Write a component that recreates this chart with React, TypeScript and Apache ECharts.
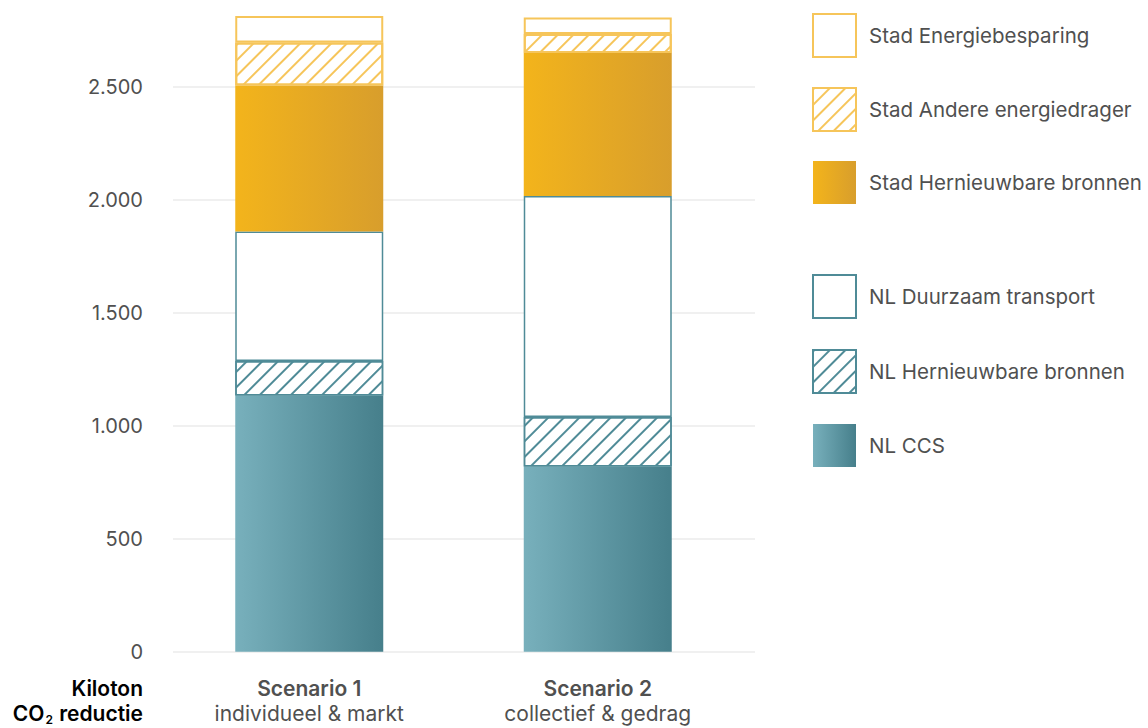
import React, { useEffect, useRef } from "react";
import * as echarts from "echarts";

const categories = ["Scenario 1", "Scenario 2"];
const subtitles = ["individueel & markt", "collectief & gedrag"];
const yTickInterval = 500;
const yMax = 2886;

const nlCcs = [1135, 820];
const nlHernieuwbaar = [152, 219];
const nlTransport = [574, 979];
const stadHernieuwbaar = [646, 633];
const stadAndere = [191, 84];
const stadBesparing = [117, 74];

const FONT = "Inter, 'Open Sans', sans-serif";
const TEXT = "#505050";
const TEAL_LINE = "#4f8b97";
const ORANGE_LINE = "#f6c55a";

const tealGrad = () =>
  new echarts.graphic.LinearGradient(0, 0, 1, 0, [
    { offset: 0, color: "#78b0bc" },
    { offset: 1, color: "#467f8b" },
  ]);
const orangeGrad = () =>
  new echarts.graphic.LinearGradient(0, 0, 1, 0, [
    { offset: 0, color: "#f3b41b" },
    { offset: 1, color: "#d89e2c" },
  ]);
const hatch = (color: string) => ({
  symbol: "rect",
  symbolSize: 1,
  dashArrayX: [1, 0],
  dashArrayY: [1.6, 9],
  rotation: -Math.PI / 4,
  color,
  backgroundColor: "#ffffff",
});

export default function App() {
  const ref = useRef<HTMLDivElement>(null);
  useEffect(() => {
    document.body.style.margin = "0";
    const chart = echarts.init(ref.current!, null, { renderer: "svg" });
    const top = 0;
    const bottom = 76.3;
    const base = { type: "bar", stack: "total", barWidth: 148, xAxisIndex: 0, yAxisIndex: 0 };
    const legendText = { fontSize: 20.5, color: TEXT, fontFamily: FONT, padding: [0, 0, 0, 8] };
    chart.setOption({
      animation: false,
      backgroundColor: "#ffffff",
      textStyle: { fontFamily: FONT },
      grid: [
        { left: 165, width: 577, top, bottom },
        { left: 173, right: 393, top, bottom },
      ],
      xAxis: [
        {
          type: "category",
          gridIndex: 0,
          data: categories,
          axisLine: { show: false },
          axisTick: { show: false },
          axisLabel: {
            margin: 24,
            formatter: (v: string, i: number) => `{t|${v}}\n{s|${subtitles[i]}}`,
            rich: {
              t: { fontSize: 21, fontWeight: 600, color: TEXT, lineHeight: 25, fontFamily: FONT },
              s: { fontSize: 21, color: TEXT, lineHeight: 25, fontFamily: FONT },
            },
          },
        },
        { type: "value", gridIndex: 1, show: false, min: 0, max: 1 },
      ],
      yAxis: [
        { type: "value", gridIndex: 0, min: 0, max: yMax, interval: yTickInterval, show: false, splitLine: { show: false } },
        {
          type: "value",
          gridIndex: 1,
          min: 0,
          max: yMax,
          interval: yTickInterval,
          axisLine: { show: false },
          axisTick: { show: false },
          splitLine: { show: true, showMaxLine: false, lineStyle: { color: "#ebebeb", width: 1.5 } },
          axisLabel: {
            margin: 30,
            fontSize: 20,
            color: TEXT,
            fontFamily: FONT,
            showMaxLabel: false,
            formatter: (v: number) => (v % yTickInterval === 0 ? v.toLocaleString("de-DE") : ""),
          },
        },
      ],
      legend: [
        {
          orient: "vertical",
          left: 812,
          top: 13,
          padding: 0,
          itemWidth: 43,
          itemHeight: 43,
          itemGap: 29,
          icon: "rect",
          data: ["Stad Energiebesparing", "Stad Andere energiedrager", "Stad Hernieuwbare bronnen"],
          textStyle: legendText,
          selectedMode: false,
        },
        {
          orient: "vertical",
          left: 812,
          top: 274,
          padding: 0,
          itemWidth: 43,
          itemHeight: 43,
          itemGap: 30,
          icon: "rect",
          data: ["NL Duurzaam transport", "NL Hernieuwbare bronnen", "NL CCS"],
          textStyle: legendText,
          selectedMode: false,
        },
      ],
      graphic: [
        {
          type: "text",
          x: 143,
          y: 675.7,
          style: {
            text: "{b|Kiloton}\n{b|CO}{sub|2}{b| reductie}",
            align: "right",
            verticalAlign: "top",
            rich: {
              b: { fontSize: 21, fontWeight: 600, color: TEXT, lineHeight: 25, fontFamily: FONT },
              sub: { fontSize: 12, fontWeight: 600, color: TEXT, lineHeight: 25, verticalAlign: "bottom", fontFamily: FONT, padding: [10, 1, 0, 1] },
            },
          },
        },
      ],
      series: [
        { ...base, name: "NL CCS", data: nlCcs, itemStyle: { color: tealGrad() } },
        {
          ...base,
          name: "NL Hernieuwbare bronnen",
          data: nlHernieuwbaar,
          itemStyle: { color: "#ffffff", borderColor: TEAL_LINE, borderWidth: 1.5, decal: hatch(TEAL_LINE) },
        },
        {
          ...base,
          name: "NL Duurzaam transport",
          data: nlTransport,
          itemStyle: { color: "#ffffff", borderColor: TEAL_LINE, borderWidth: 1.5 },
        },
        { ...base, name: "Stad Hernieuwbare bronnen", data: stadHernieuwbaar, itemStyle: { color: orangeGrad() } },
        {
          ...base,
          name: "Stad Andere energiedrager",
          data: stadAndere,
          itemStyle: { color: "#ffffff", borderColor: ORANGE_LINE, borderWidth: 2, decal: hatch(ORANGE_LINE) },
        },
        {
          ...base,
          name: "Stad Energiebesparing",
          data: stadBesparing,
          itemStyle: { color: "#ffffff", borderColor: ORANGE_LINE, borderWidth: 2 },
        },
      ],
    });
    return () => chart.dispose();
  }, []);
  return <div ref={ref} style={{ width: 1148, height: 728 }} />;
}
